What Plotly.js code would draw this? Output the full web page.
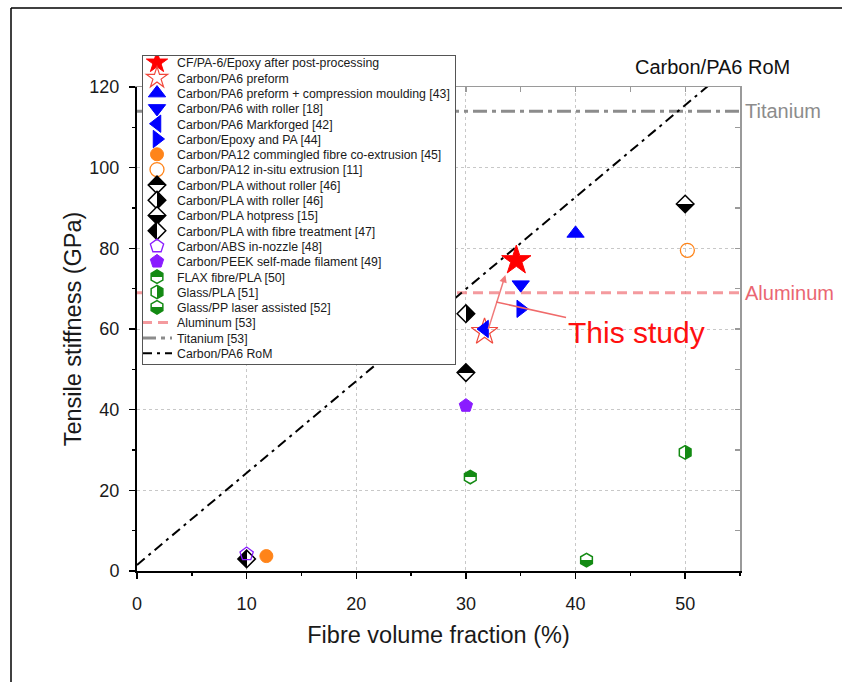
<!DOCTYPE html>
<html>
<head>
<meta charset="utf-8">
<script src="https://cdn.plot.ly/plotly-3.0.1.min.js"></script>
<style>
  html, body { margin: 0; padding: 0; background: #fff; }
  #chart { width: 842px; height: 682px; }
</style>
</head>
<body>
<div id="chart"></div>
<script>
// ---------------- DATA ----------------
const seriesNames = [
  "CF/PA-6/Epoxy after post-processing",
  "Carbon/PA6 preform",
  "Carbon/PA6 preform + compression moulding [43]",
  "Carbon/PA6 with roller [18]",
  "Carbon/PA6 Markforged [42]",
  "Carbon/Epoxy and PA [44]",
  "Carbon/PA12 commingled fibre co-extrusion [45]",
  "Carbon/PA12 in-situ extrusion [11]",
  "Carbon/PLA without roller [46]",
  "Carbon/PLA with roller [46]",
  "Carbon/PLA hotpress [15]",
  "Carbon/PLA with fibre treatment [47]",
  "Carbon/ABS in-nozzle [48]",
  "Carbon/PEEK self-made filament [49]",
  "FLAX fibre/PLA [50]",
  "Glass/PLA [51]",
  "Glass/PP laser assisted [52]"
];
// Fibre volume fraction (%)
const fibreFraction = [34.6, 31.7, 40.0, 35.0, 31.7, 35.0, 11.8, 50.2, 30.0, 30.0, 50.0, 10.0, 10.0, 30.0, 30.4, 50.0, 41.0];
// Tensile stiffness (GPa)
const stiffness     = [77.0, 59.3, 83.7, 71.0, 60.0, 65.0, 3.7, 79.5, 49.2, 63.8, 91.0, 3.0, 4.2, 41.0, 23.3, 29.4, 2.7];

// Reference property lines
const refNames  = ["Aluminum [53]", "Titanium [53]"];
const refLabels = ["Aluminum", "Titanium"];
const refValues = [69, 114];
const refXSpan  = [0, 55];

// Rule of mixtures line (two end points)
const romName = "Carbon/PA6 RoM";
const romX = [0, 55];
const romY = [1.5, 126.9];

// Axis ticks
const xTicks = [0, 10, 20, 30, 40, 50];
const yTicks = [0, 20, 40, 60, 80, 100, 120];

// ---------------- STYLES ----------------
const RED = "#ff0000", BLUE = "#0000ff", ORANGE = "#ff8419", BLK = "#000000",
      PURP = "#8a1cff", GRN = "#138a13", WHITE = "#ffffff";
// half: [first half colour, second half colour], dir: "v" (top/bottom) or "h" (left/right)
const markerStyles = [
  {symbol: "star",           size: 22, color: RED,   line: {color: RED, width: 1}},
  {symbol: "star-open",      size: 20, color: "#f0483c", line: {color: "#f0483c", width: 1.2}},
  {symbol: "triangle-up",    size: 15, color: BLUE,  line: {color: BLUE, width: 1}},
  {symbol: "triangle-down",  size: 15, color: BLUE,  line: {color: BLUE, width: 1}},
  {symbol: "triangle-left",  size: 15, color: BLUE,  line: {color: BLUE, width: 1}},
  {symbol: "triangle-right", size: 15, color: BLUE,  line: {color: BLUE, width: 1}},
  {symbol: "circle",         size: 13, color: ORANGE, line: {color: ORANGE, width: 1}},
  {symbol: "circle-open",    size: 14, color: ORANGE, line: {color: ORANGE, width: 1.3}},
  {symbol: "diamond", size: 13.5, line: {color: BLK, width: 1.5}, half: {dir: "v", c: [BLK, WHITE]}},
  {symbol: "diamond", size: 13.5, line: {color: BLK, width: 1.5}, half: {dir: "h", c: [WHITE, BLK]}},
  {symbol: "diamond", size: 13.5, line: {color: BLK, width: 1.5}, half: {dir: "v", c: [WHITE, BLK]}},
  {symbol: "diamond", size: 13.5, line: {color: BLK, width: 1.5}, half: {dir: "h", c: [BLK, WHITE]}},
  {symbol: "pentagon-open",  size: 14, color: PURP, line: {color: PURP, width: 1.3}},
  {symbol: "pentagon",       size: 14, color: PURP, line: {color: PURP, width: 1}},
  {symbol: "hexagon", size: 13.5, line: {color: GRN, width: 1.5}, half: {dir: "v", c: [GRN, WHITE]}},
  {symbol: "hexagon", size: 13.5, line: {color: GRN, width: 1.5}, half: {dir: "h", c: [WHITE, GRN]}},
  {symbol: "hexagon", size: 13.5, line: {color: GRN, width: 1.5}, half: {dir: "v", c: [WHITE, GRN]}}
];
const refStyles = [
  {color: "rgba(240,120,125,0.75)", width: 3, dash: "10px,6px"},
  {color: "#8c8c8c", width: 3, dash: "14px,5px,4px,5px"}
];
const romStyle = {color: "#000000", width: 2, dash: "10px,5px,3px,5px"};

// ---------------- TRACES ----------------
const traces = [];
const halfSpecs = [];
// lines first so that markers are drawn on top
refNames.forEach((name, i) => {
  traces.push({
    type: "scatter", mode: "lines", name: name,
    x: refXSpan, y: [refValues[i], refValues[i]],
    line: refStyles[i], legendrank: 100 + i, hoverinfo: "skip"
  });
});
traces.push({
  type: "scatter", mode: "lines", name: romName,
  x: romX, y: romY, line: romStyle, legendrank: 110, hoverinfo: "skip"
});
seriesNames.forEach((name, i) => {
  const st = markerStyles[i];
  const marker = {symbol: st.symbol, size: st.size, line: st.line};
  const tr = {
    type: "scatter", mode: "markers", name: name,
    x: [fibreFraction[i]], y: [stiffness[i]],
    marker: marker, legendrank: 1 + i, cliponaxis: false
  };
  if (st.half) {
    const uid = "halfmk" + String(i).padStart(2, "0");
    tr.uid = uid;
    marker.color = st.half.c[0];
    marker.gradient = {type: st.half.dir === "v" ? "vertical" : "horizontal", color: st.half.c[1]};
    halfSpecs.push({uid: uid, dir: st.half.dir, c: st.half.c});
  } else {
    marker.color = st.color;
  }
  traces.push(tr);
});
// invisible trace that carries the mirrored top/right frame axes
traces.push({type: "scatter", mode: "markers", x: [null], y: [null], xaxis: "x2", yaxis: "y2",
  showlegend: false, hoverinfo: "skip"});

const FONT = "Liberation Sans, Arial, Helvetica, sans-serif";
const W = 842, H = 682, ML = 137, MR = 102, MT = 87, MB = 111;
const PW = W - ML - MR, PH = H - MT - MB;
const px2paperX = p => (p - ML) / PW;
const px2paperY = p => (H - MB - p) / PH;
const LEGEND_ROW = 15.3;   // row pitch of the legend in the reference
const LEGEND_SHIFT_X = -6; // move symbols/text a little to the left
const LEGEND_SHIFT_Y = -8; // move the rows up inside the box
const LEGEND_BOTTOM_TRIM = 14;

const layout = {
  width: W, height: H,
  margin: {l: ML, r: MR, t: MT, b: MB, pad: 0},
  paper_bgcolor: "#ffffff", plot_bgcolor: "#ffffff",
  font: {family: FONT, color: "#1a1a1a"},
  showlegend: true,
  legend: {
    x: px2paperX(142), y: px2paperY(55), xanchor: "left", yanchor: "top",
    bgcolor: "#ffffff", bordercolor: "#555555", borderwidth: 1,
    font: {family: FONT, size: 12.3, color: "#1a1a1a"},
    itemwidth: 30, tracegroupgap: 0, maxheight: 600
  },
  xaxis: {
    range: [0, 55], tickmode: "array", tickvals: xTicks,
    ticks: "outside", ticklen: 6, tickwidth: 1.5, tickcolor: "#000",
    showline: true, linecolor: "#000", linewidth: 2,
    showgrid: true, gridcolor: "#c8c8c8", gridwidth: 1, griddash: "dot",
    zeroline: false,
    minor: {dtick: 5, tick0: 0, ticks: "outside", ticklen: 3, tickwidth: 1.5, tickcolor: "#000", showgrid: false},
    tickfont: {family: FONT, size: 18, color: "#1a1a1a"},
    ticklabelstandoff: 9,
    title: {text: "Fibre volume fraction (%)", font: {family: FONT, size: 23.5, color: "#1a1a1a"}, standoff: 14}
  },
  yaxis: {
    range: [0, 120], tickmode: "array", tickvals: yTicks,
    ticks: "outside", ticklen: 6, tickwidth: 1.5, tickcolor: "#000",
    showline: true, linecolor: "#000", linewidth: 2,
    showgrid: true, gridcolor: "#c8c8c8", gridwidth: 1, griddash: "dot",
    zeroline: false,
    minor: {dtick: 10, tick0: 0, ticks: "outside", ticklen: 3, tickwidth: 1.5, tickcolor: "#000", showgrid: false},
    tickfont: {family: FONT, size: 18, color: "#1a1a1a"},
    ticklabelstandoff: 6,
    title: {text: "Tensile stiffness (GPa)", font: {family: FONT, size: 23.5, color: "#1a1a1a"}, standoff: 1}
  },
  xaxis2: {
    overlaying: "x", side: "top", anchor: "y2", range: [0, 55],
    showline: true, linecolor: "#9a9a9a", linewidth: 1.5,
    ticks: "inside", dtick: 5, tick0: 0, ticklen: 5, tickcolor: "#9a9a9a", tickwidth: 1.2,
    showticklabels: false, showgrid: false, zeroline: false
  },
  yaxis2: {
    overlaying: "y", side: "right", anchor: "x2", range: [0, 120],
    showline: true, linecolor: "#9a9a9a", linewidth: 1.5,
    ticks: "inside", dtick: 10, tick0: 0, ticklen: 5, tickcolor: "#9a9a9a", tickwidth: 1.2,
    showticklabels: false, showgrid: false, zeroline: false
  },
  annotations: [
    {xref: "paper", yref: "paper", x: px2paperX(712), y: px2paperY(67), xanchor: "center", yanchor: "middle",
     text: romName, showarrow: false, font: {family: FONT, size: 20, color: "#111"}},
    {xref: "paper", yref: "y", x: px2paperX(743), y: refValues[1], xanchor: "left", yanchor: "middle",
     text: refLabels[1], showarrow: false, font: {family: FONT, size: 20, color: "#8c8c8c"}},
    {xref: "paper", yref: "y", x: px2paperX(743), y: refValues[0], xanchor: "left", yanchor: "middle",
     text: refLabels[0], showarrow: false, font: {family: FONT, size: 20, color: "#ea6672"}},
    // arrow from preform to post-processed sample
    {xref: "x", yref: "y", axref: "x", ayref: "y", x: 33.6, y: 73.4, ax: 32.0, ay: 59.6,
     text: "", showarrow: true, arrowhead: 2, arrowsize: 1, arrowwidth: 1.5, arrowcolor: "#f07a7a", standoff: 0},
    // "This study" label with pointer line
    {xref: "x", yref: "y", x: 32.75, y: 66.7, ax: 140, ay: 31,
     text: "This study", showarrow: true, arrowhead: 0, arrowwidth: 1.5, arrowcolor: "#f06a6a",
     font: {family: FONT, size: 30, color: "#ff1010"}}
  ],
  shapes: [
    {type: "line", xref: "paper", yref: "paper", x0: px2paperX(11), x1: px2paperX(842), y0: px2paperY(8), y1: px2paperY(8),
     line: {color: "#000", width: 1.5}},
    {type: "line", xref: "paper", yref: "paper", x0: px2paperX(11), x1: px2paperX(11), y0: px2paperY(8), y1: px2paperY(682),
     line: {color: "#000", width: 1.5}}
  ]
};

const gd = document.getElementById("chart");
// turn Plotly's two-colour marker gradients into crisp half fills
function sharpenHalfFills() {
  const grads = Array.from(gd.querySelectorAll("linearGradient"));
  halfSpecs.forEach(spec => {
    grads.filter(g => (g.id || "").indexOf(spec.uid) !== -1).forEach(g => {
      g.setAttribute("x1", "0"); g.setAttribute("y1", "0");
      if (spec.dir === "v") { g.setAttribute("x2", "0"); g.setAttribute("y2", "1"); }
      else { g.setAttribute("x2", "1"); g.setAttribute("y2", "0"); }
      const stops = g.querySelectorAll("stop");
      if (stops.length >= 2) {
        stops[0].setAttribute("offset", "0.5");
        stops[0].setAttribute("stop-color", spec.c[0]);
        stops[0].setAttribute("stop-opacity", "1");
        stops[stops.length - 1].setAttribute("offset", "0.5");
        stops[stops.length - 1].setAttribute("stop-color", spec.c[1]);
        stops[stops.length - 1].setAttribute("stop-opacity", "1");
      }
    });
  });
}
// tighten the legend row pitch to match the reference
function compactLegend() {
  const leg = gd.querySelector("g.legend");
  if (!leg) return;
  const items = Array.from(leg.querySelectorAll("g.traces"));
  if (items.length < 2) return;
  const parse = el => {
    const m = /translate\(\s*([-\d.e]+)[ ,]+([-\d.e]+)\s*\)/.exec(el.getAttribute("transform") || "");
    return m ? [parseFloat(m[1]), parseFloat(m[2])] : [0, 0];
  };
  const pos = items.map(parse);
  const order = pos.map((p, i) => i).sort((a, b) => pos[a][1] - pos[b][1]);
  const y0 = pos[order[0]][1];
  const yLastOld = pos[order[order.length - 1]][1];
  order.forEach((idx, k) => {
    const nx = pos[idx][0] + LEGEND_SHIFT_X;
    const ny = y0 + LEGEND_SHIFT_Y + k * LEGEND_ROW;
    items[idx].setAttribute("transform", "translate(" + nx + "," + ny + ")");
  });
  const yLastNew = y0 + (order.length - 1) * LEGEND_ROW;
  const dh = yLastOld - yLastNew;
  const bg = leg.querySelector("rect.bg");
  if (bg) {
    const h = parseFloat(bg.getAttribute("height"));
    const w = parseFloat(bg.getAttribute("width"));
    bg.setAttribute("height", String(h - dh + 2 - LEGEND_BOTTOM_TRIM));
    bg.setAttribute("width", String(w + LEGEND_SHIFT_X));
  }
}
Plotly.newPlot(gd, traces, layout, {staticPlot: true, displayModeBar: false}).then(() => {
  sharpenHalfFills();
  compactLegend();
});
</script>
</body>
</html>
